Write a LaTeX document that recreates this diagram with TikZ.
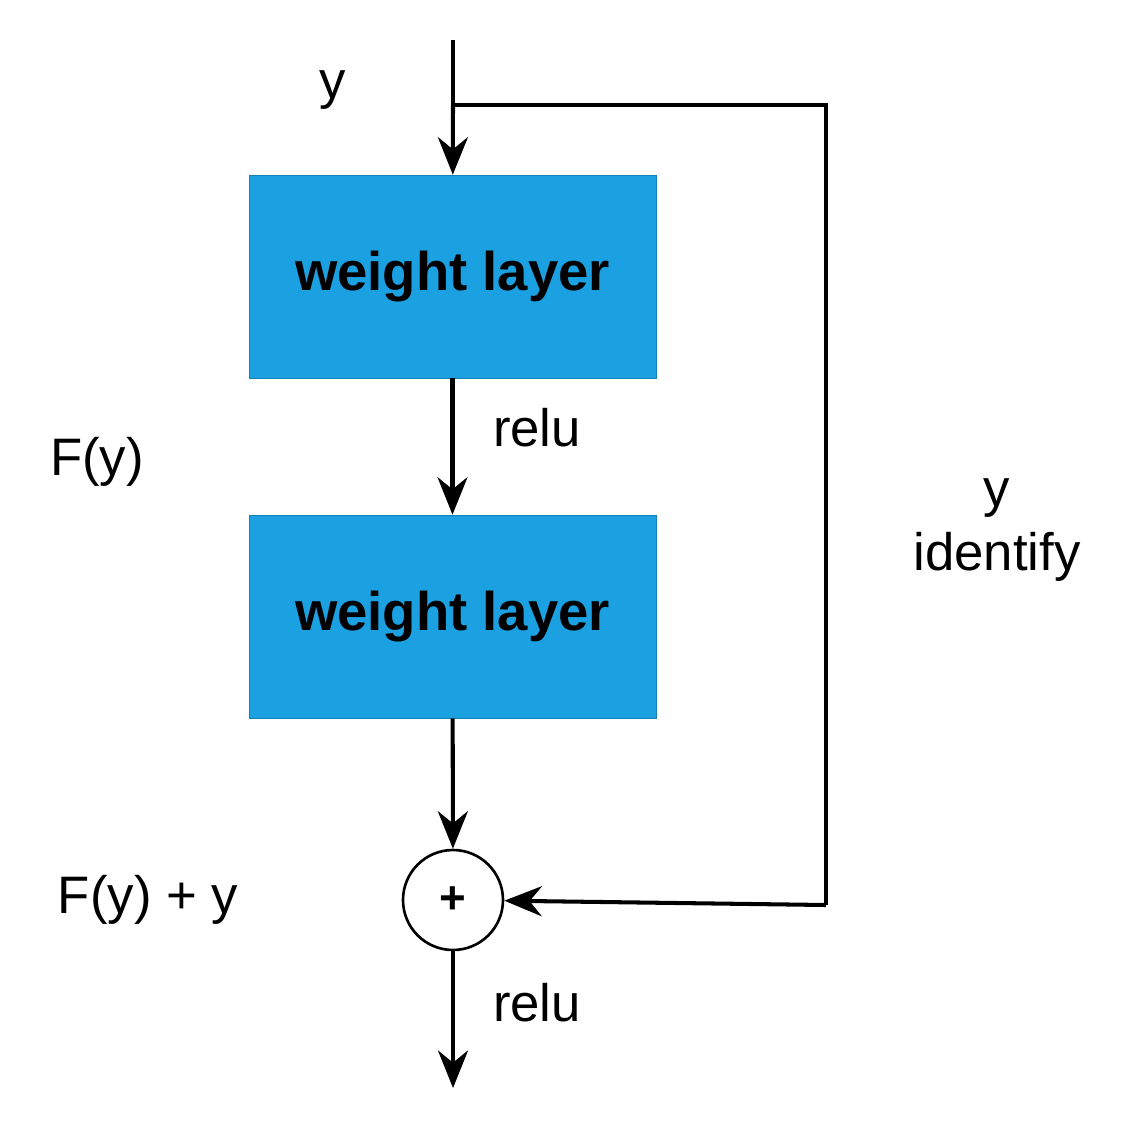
\documentclass[tikz,border=0pt]{standalone}
\usepackage{fontspec}
\setmainfont{Liberation Sans}
\usepackage{tikz}
\usetikzlibrary{arrows.meta,positioning}
\definecolor{layerblue}{HTML}{1BA1E2}

\begin{document}
\begin{tikzpicture}
[layer/.style={rectangle, draw=layerblue!80!black, fill=layerblue, minimum width=8.14cm, minimum height=4.06cm, font=\fontsize{31}{36}\selectfont\bfseries, text=black},
sum/.style={circle, draw=black, line width=1.5pt, minimum size=2cm, inner sep=0pt, font=\fontsize{26}{30}\selectfont\bfseries},
lbl/.style={font=\fontsize{30}{36}\selectfont, text=black},
arrow/.style={line width=2.3pt, -{Stealth[length=0.75cm, width=0.6cm]}},
line/.style={line width=2.3pt}]
\useasboundingbox (0,0) rectangle (22.62,-22.56);
\coordinate (in) at (9.06,-0.8);
\coordinate (split) at (9.06,-2.1);
\coordinate (out) at (9.06,-21.76);
\node (w1) [layer] at (9.05,-5.53) {weight layer};
\node (w2) [layer] at (9.05,-12.33) {weight layer};
\node (plus) [sum] at (9.06,-18.0) {+};
\coordinate (c1) at (16.52,-2.1);
\coordinate (c2) at (16.52,-18.1);
\draw[line] (in) -- (split);
\draw[arrow] (split) -- (w1);
\draw[arrow] (w1) -- (w2);
\draw[arrow] (w2) -- (plus);
\draw[arrow] (plus) -- (out);
\draw[line] (split) -- (c1) -- (c2);
\draw[arrow] (c2) -- (plus);
\node (ly) [lbl] at (6.66,-1.8) {y};
\node (lrelu1) [lbl] at (10.74,-8.56) {relu};
\node (lfy) [lbl] at (1.94,-9.24) {F(y)};
\node (lid) [lbl, align=center] at (19.94,-10.6) {y\\identify};
\node (lsum) [lbl] at (2.96,-18.0) {F(y) + y};
\node (lrelu2) [lbl] at (10.74,-20.06) {relu};
\end{tikzpicture}
\end{document}
